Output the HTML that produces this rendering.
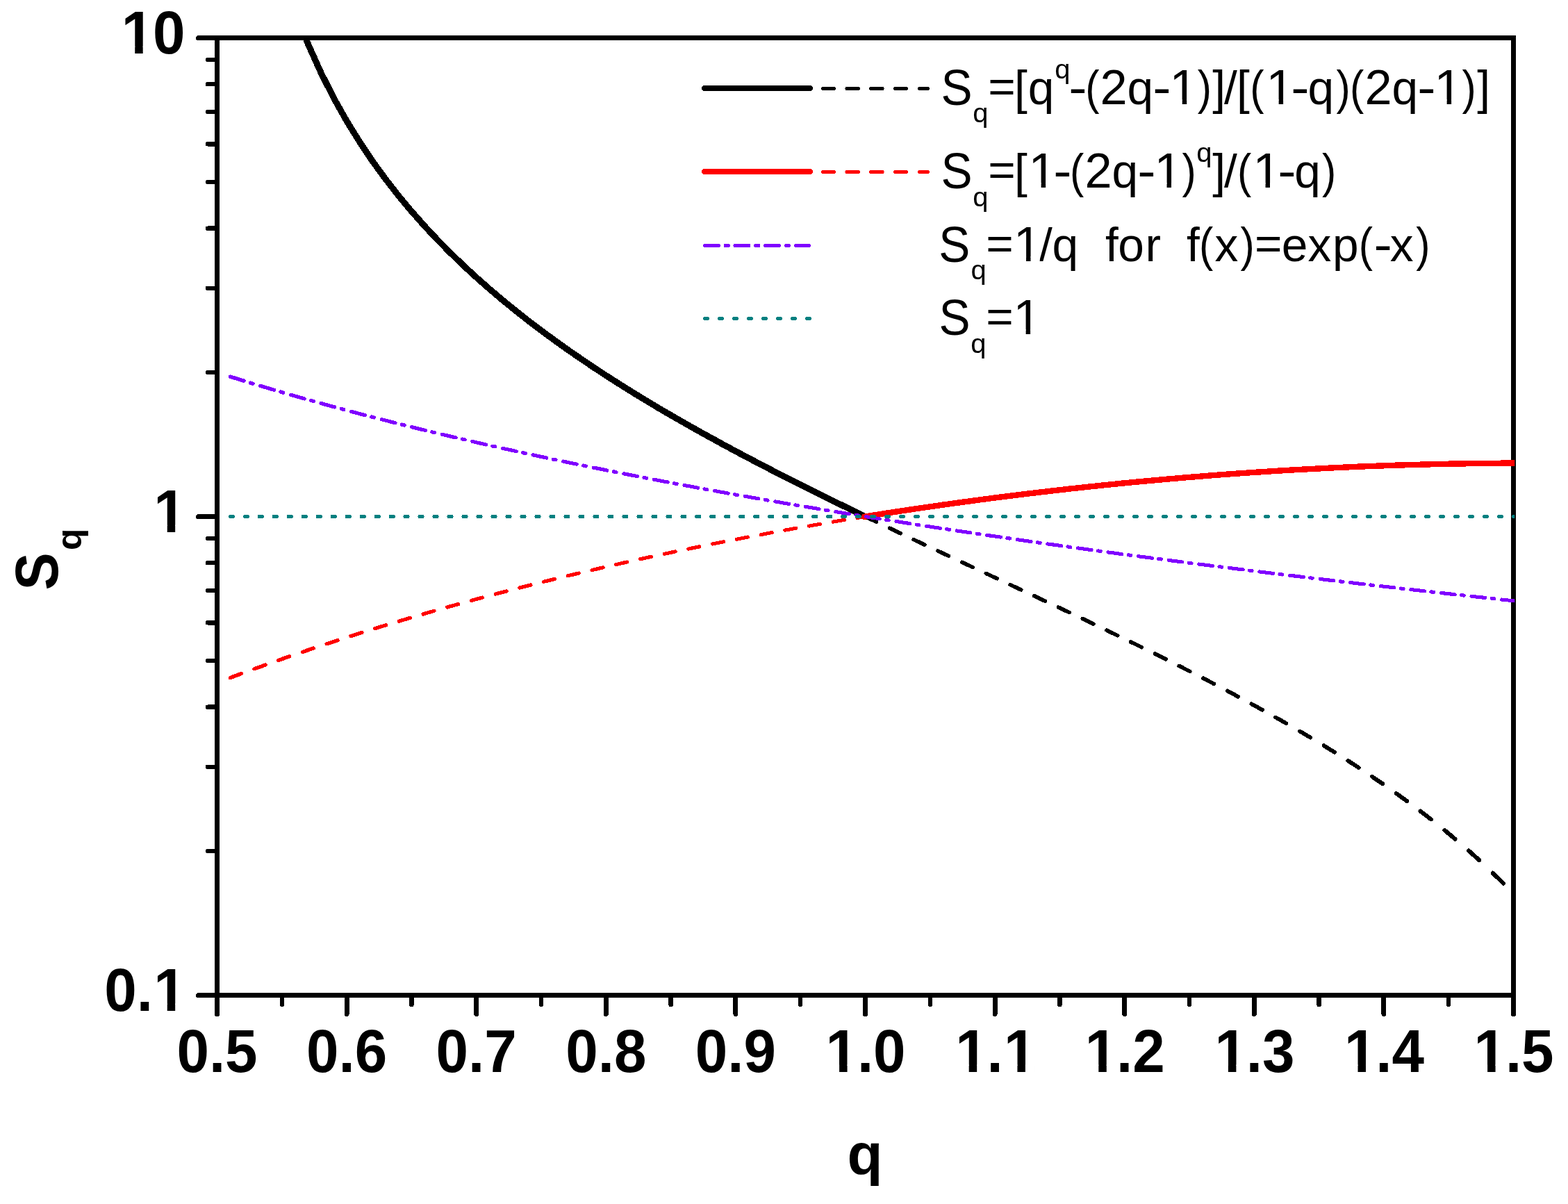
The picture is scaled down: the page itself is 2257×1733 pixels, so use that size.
<!DOCTYPE html>
<html lang="en"><head><meta charset="utf-8"><title>Sq versus q</title>
<style>
html,body{margin:0;padding:0;background:#fff;}
body{width:2257px;height:1733px;overflow:hidden;}
svg{display:block;}
text{white-space:pre;}
</style></head><body>
<svg width="2257" height="1733" viewBox="0 0 2257 1733" role="img" aria-label="Sq versus q">
<defs><clipPath id="plot"><rect x="309.0" y="51.0" width="1871.2" height="1385.0"/></clipPath></defs>
<rect width="2257" height="1733" fill="#fff"/>
<g id="axes" stroke="#000" fill="none" shape-rendering="crispEdges">
<path d="M285.5,54.5 H2182.0 M285.5,1432.5 H2182.0 M312.5,54.5 V1459.5 M2178.5,51.0 V1459.5" stroke-width="7"/>
</g>
<g id="ticks" stroke="#000" fill="none" stroke-linecap="round" shape-rendering="crispEdges">
<path d="M312.5,54.5 H285.5M312.5,743.5 H285.5M312.5,1432.5 H285.5M312.50,1432.5 V1459.5M499.10,1432.5 V1459.5M685.70,1432.5 V1459.5M872.30,1432.5 V1459.5M1058.90,1432.5 V1459.5M1245.50,1432.5 V1459.5M1432.10,1432.5 V1459.5M1618.70,1432.5 V1459.5M1805.30,1432.5 V1459.5M1991.90,1432.5 V1459.5M2178.50,1432.5 V1459.5" stroke-width="7"/>
<path d="M312.5,1225.09 H299.0M312.5,1103.76 H299.0M312.5,1017.68 H299.0M312.5,950.91 H299.0M312.5,896.35 H299.0M312.5,850.23 H299.0M312.5,810.27 H299.0M312.5,775.03 H299.0M312.5,536.09 H299.0M312.5,414.76 H299.0M312.5,328.68 H299.0M312.5,261.91 H299.0M312.5,207.35 H299.0M312.5,161.23 H299.0M312.5,121.27 H299.0M312.5,86.03 H299.0M405.80,1432.5 V1446.0M592.40,1432.5 V1446.0M779.00,1432.5 V1446.0M965.60,1432.5 V1446.0M1152.20,1432.5 V1446.0M1338.80,1432.5 V1446.0M1525.40,1432.5 V1446.0M1712.00,1432.5 V1446.0M1898.60,1432.5 V1446.0M2085.20,1432.5 V1446.0" stroke-width="6.4"/>
</g>
<g id="curves" clip-path="url(#plot)" fill="none" stroke-linecap="round" stroke-linejoin="round" shape-rendering="crispEdges">
<path d="M405.8,-41.3L424.5,14.9L443.1,62.6L461.8,104.2L480.4,141.1L499.1,174.3L517.8,204.5L536.4,232.3L555.1,257.9L573.7,281.8L592.4,304.2L611.1,325.3L629.7,345.2L648.4,364.1L667.0,382.1L685.7,399.3L704.4,415.8L723.0,431.6L741.7,446.8L760.3,461.5L779.0,475.7L797.7,489.4L816.3,502.7L835.0,515.6L853.6,528.2L872.3,540.5L891.0,552.4L909.6,564.1L928.3,575.5L946.9,586.7L965.6,597.6L984.3,608.3L1002.9,618.9L1021.6,629.2L1040.2,639.4L1058.9,649.5L1077.6,659.4L1096.2,669.1L1114.9,678.8L1133.5,688.3L1152.2,697.7L1170.9,707.0L1189.5,716.3L1208.2,725.4L1226.8,734.5L1245.5,743.5" stroke="#000" stroke-width="9.0" stroke-linecap="butt"/>
<path d="M1350.0,793.0L1357.5,796.5L1365.6,800.3M1384.7,809.2L1394.8,814.0L1400.3,816.5M1419.4,825.4L1432.1,831.4L1435.0,832.7M1454.1,841.6L1469.4,848.8L1469.7,848.9" stroke="#000" stroke-width="5.6"/><path d="M1245.8,743.7L1261.4,751.1M1280.6,760.3L1282.8,761.3L1296.1,767.6M1315.3,776.7L1320.1,779.0L1330.8,784.0M1488.9,857.9L1504.4,865.2M1523.6,874.2L1525.4,875.0L1539.1,881.5M1558.3,890.6L1562.7,892.7L1573.8,898.0M1593.1,907.2L1600.0,910.6L1608.6,914.7M1627.8,924.0L1637.4,928.7L1643.3,931.6M1662.5,941.1L1674.7,947.2L1678.0,948.8M1697.2,958.5L1712.0,966.0L1712.7,966.4M1731.9,976.2L1747.4,984.3" stroke="#000" stroke-width="5.7"/><path d="M1766.7,994.5L1768.0,995.1L1782.1,1002.7M1801.4,1013.2L1805.3,1015.3L1816.8,1021.7M1836.1,1032.5L1842.6,1036.1L1851.5,1041.3M1870.9,1052.5L1879.9,1057.8L1886.3,1061.6" stroke="#000" stroke-width="5.8"/><path d="M1905.6,1073.3L1917.3,1080.5L1920.9,1082.8M1940.4,1095.0L1954.6,1104.2L1955.7,1104.9" stroke="#000" stroke-width="5.9"/><path d="M1975.1,1117.9L1990.3,1128.3M2009.8,1142.0L2010.6,1142.5L2025.0,1153.0M2044.6,1167.6L2047.9,1170.1L2059.8,1179.3" stroke="#000" stroke-width="6.0"/><path d="M2079.3,1195.0L2085.2,1199.8L2094.4,1207.6M2114.1,1224.5L2122.5,1232.0L2129.2,1238.1M2148.8,1256.6L2159.8,1267.4L2163.9,1271.5" stroke="#000" stroke-width="6.1"/>
<path d="M1095.1,769.6L1096.2,769.4L1111.2,766.6M1129.8,763.2L1133.5,762.5L1145.9,760.3M1164.5,757.1L1170.9,756.0L1180.6,754.3M1199.2,751.1L1208.2,749.6L1215.3,748.4M1233.9,745.4L1245.5,743.5L1248.0,743.1" stroke="#ff0000" stroke-width="5.1"/><path d="M782.6,837.3L797.7,833.6L798.6,833.4M817.3,828.8L833.3,825.0M852.1,820.6L853.6,820.2L868.1,816.9M886.8,812.6L891.0,811.6L902.8,809.0M921.5,804.8L928.3,803.3L937.5,801.3M956.2,797.3L965.6,795.3L972.2,793.9M990.9,790.1L1002.9,787.6L1006.9,786.8M1025.7,783.0L1040.2,780.1L1041.7,779.8M1060.4,776.2L1076.4,773.1" stroke="#ff0000" stroke-width="5.2"/><path d="M539.6,904.7L555.1,899.9L555.5,899.8M574.4,894.1L590.3,889.4M609.1,883.9L611.1,883.3L625.0,879.3M643.8,874.0L648.4,872.7L659.7,869.6M678.5,864.4L685.7,862.4L694.4,860.1M713.2,855.1L723.0,852.5L729.1,850.9M748.0,846.1L760.3,842.9L763.9,842.0" stroke="#ff0000" stroke-width="5.3"/><path d="M366.1,962.8L368.5,961.9L381.9,957.1M400.8,950.4L405.8,948.6L416.6,944.9M435.5,938.4L443.1,935.8L451.3,933.0M470.2,926.8L480.4,923.4L486.0,921.6M505.0,915.5L517.8,911.5L520.8,910.5" stroke="#ff0000" stroke-width="5.4"/><path d="M331.4,975.6L347.1,969.7" stroke="#ff0000" stroke-width="5.5"/>
<path d="M1241.5,744.1L1245.5,743.5L1264.2,740.5L1282.8,737.6L1301.5,734.8L1320.1,732.0L1338.8,729.3L1357.5,726.6L1376.1,724.0L1394.8,721.5L1413.4,719.0L1432.1,716.5L1450.8,714.2L1469.4,711.8L1488.1,709.6L1506.7,707.4L1525.4,705.2L1544.1,703.1L1562.7,701.1L1581.4,699.1L1600.0,697.2L1618.7,695.3L1637.4,693.5L1656.0,691.8L1674.7,690.1L1693.3,688.5L1712.0,686.9L1730.7,685.4L1749.3,683.9L1768.0,682.5L1786.6,681.2L1805.3,679.9L1824.0,678.7L1842.6,677.5L1861.3,676.4L1879.9,675.4L1898.6,674.4L1917.3,673.4L1935.9,672.6L1954.6,671.7L1973.2,671.0L1991.9,670.3L2010.6,669.6L2029.2,669.1L2047.9,668.6L2066.5,668.1L2085.2,667.7L2103.9,667.4L2122.5,667.1L2141.2,666.9L2159.8,666.7L2178.5,666.6L2180.5,666.6" stroke="#ff0000" stroke-width="8.4" stroke-linecap="butt"/>
<path d="M2161.5,863.0L2178.5,864.8L2181.0,865.1" stroke="#8000ff" stroke-width="5.0"/><path d="M941.3,690.3L946.9,691.3L961.1,694.0M970.4,695.8L974.2,696.5M984.9,698.5L1002.9,701.8L1004.7,702.2M1014.0,703.9L1017.8,704.6M1028.5,706.5L1040.2,708.6L1048.3,710.1M1057.6,711.7L1058.9,712.0L1061.4,712.4M1072.1,714.3L1077.6,715.3L1091.9,717.8M1101.2,719.4L1105.0,720.1M1115.7,721.9L1133.5,725.0L1135.5,725.3M1144.8,726.9L1148.6,727.5M1159.2,729.3L1170.9,731.3L1179.0,732.6M1188.3,734.2L1189.5,734.4L1192.1,734.8M1202.8,736.6L1208.2,737.5L1222.6,739.8M1231.9,741.3L1235.7,741.9M1246.4,743.6L1264.2,746.5L1266.2,746.8M1275.5,748.3L1279.3,748.9M1290.0,750.5L1301.5,752.3L1309.8,753.6M1319.1,755.1L1320.1,755.2L1322.9,755.7M1333.5,757.3L1338.8,758.1L1353.4,760.3M1362.6,761.7L1366.5,762.3M1377.1,763.9L1394.8,766.5L1396.9,766.8M1406.2,768.2L1410.0,768.8M1420.7,770.4L1432.1,772.0L1440.5,773.2M1449.8,774.6L1450.8,774.7L1453.6,775.1M1464.3,776.7L1469.4,777.4L1484.1,779.5M1493.4,780.8L1497.2,781.4M1507.9,782.9L1525.4,785.3L1527.7,785.6M1537.0,786.9L1540.8,787.5M1551.4,788.9L1562.7,790.5L1571.2,791.6M1580.5,792.9L1581.4,793.0L1584.3,793.4M1595.0,794.9L1600.0,795.6L1614.8,797.5M1624.1,798.8L1627.9,799.3M1638.6,800.7L1656.0,803.0L1658.4,803.3M1667.7,804.5L1671.5,805.0M1682.2,806.4L1693.3,807.9L1702.0,809.0M1711.3,810.2L1712.0,810.3L1715.1,810.7M1725.8,812.0L1730.7,812.7L1745.6,814.5M1754.9,815.7L1758.7,816.2M1769.3,817.5L1786.6,819.7L1789.1,820.0M1798.4,821.2L1802.2,821.6M1812.9,822.9L1824.0,824.3L1832.7,825.4M1842.0,826.5L1842.6,826.6L1845.8,827.0M1856.5,828.3L1861.3,828.8L1876.3,830.6M1885.6,831.8L1889.4,832.2M1900.1,833.5L1917.3,835.5L1919.9,835.8M1929.2,836.9L1933.0,837.4M1943.7,838.6L1954.6,839.9L1963.5,840.9M1972.8,842.0L1973.2,842.0L1976.6,842.4M1987.2,843.6L1991.9,844.2L2007.0,845.9M2016.3,847.0L2020.1,847.4M2030.8,848.6L2047.9,850.5L2050.6,850.8M2059.9,851.9L2063.7,852.3M2074.4,853.5L2085.2,854.7L2094.2,855.7M2103.5,856.7L2103.9,856.7L2107.3,857.1M2118.0,858.3L2122.5,858.8L2137.8,860.4M2147.1,861.4L2150.9,861.9" stroke="#8000ff" stroke-width="5.1"/><path d="M549.2,603.7L555.1,605.2L568.9,608.7M578.3,611.1L582.0,612.0M592.7,614.7L611.1,619.2L612.4,619.5M621.8,621.8L625.5,622.7M636.3,625.2L648.4,628.1L656.0,629.9M665.4,632.1L667.0,632.5L669.1,632.9M679.9,635.4L685.7,636.8L699.6,639.9M709.0,642.1L712.7,642.9M723.5,645.3L741.7,649.3L743.2,649.7M752.6,651.7L756.3,652.5M767.1,654.8L779.0,657.4L786.8,659.1M796.2,661.1L797.7,661.4L799.9,661.8M810.6,664.1L816.3,665.3L830.3,668.2M839.7,670.1L843.4,670.9M854.2,673.1L872.3,676.7L873.9,677.1M883.3,678.9L887.0,679.7M897.8,681.8L909.6,684.1L917.5,685.6M926.9,687.5L928.3,687.7L930.6,688.2" stroke="#8000ff" stroke-width="5.2"/><path d="M360.4,551.1L364.0,552.2M374.9,555.4L387.1,559.1L394.5,561.3M404.0,564.1L405.8,564.6L407.6,565.1M418.5,568.3L424.5,570.0L438.1,573.9M447.6,576.5L451.2,577.5M462.1,580.6L480.4,585.6L481.7,585.9M491.2,588.5L494.8,589.5M505.6,592.4L517.8,595.6L525.2,597.5M534.7,600.0L536.4,600.5L538.3,600.9" stroke="#8000ff" stroke-width="5.3"/><path d="M331.4,542.1L349.8,547.8L350.9,548.1" stroke="#8000ff" stroke-width="5.4"/>
<path d="M331.2,743.5L335.3,743.5M352.2,743.5L356.3,743.5M373.1,743.5L377.2,743.5M394.1,743.5L398.2,743.5M415.1,743.5L419.2,743.5M436.1,743.5L440.2,743.5M457.1,743.5L461.2,743.5M478.1,743.5L480.4,743.5L482.2,743.5M499.1,743.5L503.2,743.5M520.1,743.5L524.2,743.5M541.1,743.5L545.2,743.5M562.1,743.5L566.2,743.5M583.0,743.5L587.1,743.5M604.0,743.5L608.1,743.5M625.0,743.5L629.1,743.5M646.0,743.5L648.4,743.5L650.1,743.5M667.0,743.5L671.1,743.5M688.0,743.5L692.1,743.5M709.0,743.5L713.1,743.5M730.0,743.5L734.1,743.5M751.0,743.5L755.1,743.5M772.0,743.5L776.1,743.5M792.9,743.5L797.0,743.5M813.9,743.5L816.3,743.5L818.0,743.5M834.9,743.5L835.0,743.5L839.0,743.5M855.9,743.5L860.0,743.5M876.9,743.5L881.0,743.5M897.9,743.5L902.0,743.5M918.9,743.5L923.0,743.5M939.9,743.5L944.0,743.5M960.9,743.5L965.0,743.5M981.9,743.5L984.3,743.5L986.0,743.5M1002.8,743.5L1002.9,743.5L1006.9,743.5M1023.8,743.5L1027.9,743.5M1044.8,743.5L1048.9,743.5M1065.8,743.5L1069.9,743.5M1086.8,743.5L1090.9,743.5M1107.8,743.5L1111.9,743.5M1128.8,743.5L1132.9,743.5M1149.8,743.5L1152.2,743.5L1153.9,743.5M1170.8,743.5L1170.9,743.5L1174.9,743.5M1191.8,743.5L1195.9,743.5M1212.7,743.5L1216.8,743.5M1233.7,743.5L1237.8,743.5M1254.7,743.5L1258.8,743.5M1275.7,743.5L1279.8,743.5M1296.7,743.5L1300.8,743.5M1317.7,743.5L1320.1,743.5L1321.8,743.5M1338.7,743.5L1338.8,743.5L1342.8,743.5M1359.7,743.5L1363.8,743.5M1380.7,743.5L1384.8,743.5M1401.7,743.5L1405.8,743.5M1422.6,743.5L1426.7,743.5M1443.6,743.5L1447.7,743.5M1464.6,743.5L1468.7,743.5M1485.6,743.5L1488.1,743.5L1489.7,743.5M1506.6,743.5L1506.7,743.5L1510.7,743.5M1527.6,743.5L1531.7,743.5M1548.6,743.5L1552.7,743.5M1569.6,743.5L1573.7,743.5M1590.6,743.5L1594.7,743.5M1611.6,743.5L1615.7,743.5M1632.5,743.5L1636.6,743.5M1653.5,743.5L1656.0,743.5L1657.6,743.5M1674.5,743.5L1674.7,743.5L1678.6,743.5M1695.5,743.5L1699.6,743.5M1716.5,743.5L1720.6,743.5M1737.5,743.5L1741.6,743.5M1758.5,743.5L1762.6,743.5M1779.5,743.5L1783.6,743.5M1800.5,743.5L1804.6,743.5M1821.5,743.5L1824.0,743.5L1825.6,743.5M1842.4,743.5L1842.6,743.5L1846.5,743.5M1863.4,743.5L1867.5,743.5M1884.4,743.5L1888.5,743.5M1905.4,743.5L1909.5,743.5M1926.4,743.5L1930.5,743.5M1947.4,743.5L1951.5,743.5M1968.4,743.5L1972.5,743.5M1989.4,743.5L1991.9,743.5L1993.5,743.5M2010.4,743.5L2010.6,743.5L2014.5,743.5M2031.4,743.5L2035.5,743.5M2052.3,743.5L2056.4,743.5M2073.3,743.5L2077.4,743.5M2094.3,743.5L2098.4,743.5M2115.3,743.5L2119.4,743.5M2136.3,743.5L2140.4,743.5M2157.3,743.5L2159.8,743.5L2161.4,743.5M2178.3,743.5L2178.5,743.5L2181.0,743.5" stroke="#008080" stroke-width="5.0"/>
</g>
<g id="labels" font-family="'Liberation Sans', sans-serif" fill="#000" style="font-kerning:none">
<text transform="translate(0,1543.00) scale(1,1.0350)" x="254.39 300.89 324.11" font-size="83.6" font-weight="bold">0.5</text>
<text transform="translate(0,1543.00) scale(1,1.0350)" x="440.99 487.49 510.71" font-size="83.6" font-weight="bold">0.6</text>
<text transform="translate(0,1543.00) scale(1,1.0350)" x="627.59 674.09 697.31" font-size="83.6" font-weight="bold">0.7</text>
<text transform="translate(0,1543.00) scale(1,1.0350)" x="814.19 860.69 883.91" font-size="83.6" font-weight="bold">0.8</text>
<text transform="translate(0,1543.00) scale(1,1.0350)" x="1000.79 1047.29 1070.51" font-size="83.6" font-weight="bold">0.9</text>
<text transform="translate(0,1543.00) scale(1,1.0350)" x="1188.59 1233.89 1257.11" font-size="83.6" font-weight="bold">1.0</text><rect x="1192.85" y="1532.57" width="15.25" height="11.93" fill="#fff"/><rect x="1219.57" y="1532.57" width="14.08" height="11.93" fill="#fff"/>
<text transform="translate(0,1543.00) scale(1,1.0350)" x="1375.19 1420.49 1444.91" font-size="83.6" font-weight="bold">1.1</text><rect x="1379.45" y="1532.57" width="15.25" height="11.93" fill="#fff"/><rect x="1406.17" y="1532.57" width="14.08" height="11.93" fill="#fff"/><rect x="1449.18" y="1532.57" width="15.25" height="11.93" fill="#fff"/><rect x="1475.89" y="1532.57" width="14.08" height="11.93" fill="#fff"/>
<text transform="translate(0,1543.00) scale(1,1.0350)" x="1561.79 1607.09 1630.31" font-size="83.6" font-weight="bold">1.2</text><rect x="1566.05" y="1532.57" width="15.25" height="11.93" fill="#fff"/><rect x="1592.77" y="1532.57" width="14.08" height="11.93" fill="#fff"/>
<text transform="translate(0,1543.00) scale(1,1.0350)" x="1748.39 1793.69 1816.91" font-size="83.6" font-weight="bold">1.3</text><rect x="1752.65" y="1532.57" width="15.25" height="11.93" fill="#fff"/><rect x="1779.37" y="1532.57" width="14.08" height="11.93" fill="#fff"/>
<text transform="translate(0,1543.00) scale(1,1.0350)" x="1934.99 1980.29 2003.51" font-size="83.6" font-weight="bold">1.4</text><rect x="1939.25" y="1532.57" width="15.25" height="11.93" fill="#fff"/><rect x="1965.97" y="1532.57" width="14.08" height="11.93" fill="#fff"/>
<text transform="translate(0,1543.00) scale(1,1.0350)" x="2121.59 2166.89 2190.11" font-size="83.6" font-weight="bold">1.5</text><rect x="2125.85" y="1532.57" width="15.25" height="11.93" fill="#fff"/><rect x="2152.57" y="1532.57" width="14.08" height="11.93" fill="#fff"/>
<text transform="translate(0,77.00) scale(1,1.0350)" x="174.71 220.01" font-size="83.6" font-weight="bold">10</text><rect x="178.97" y="66.57" width="15.25" height="11.93" fill="#fff"/><rect x="205.69" y="66.57" width="14.08" height="11.93" fill="#fff"/>
<text transform="translate(0,766.00) scale(1,1.0350)" x="221.20" font-size="83.6" font-weight="bold">1</text><rect x="225.47" y="755.57" width="15.25" height="11.93" fill="#fff"/><rect x="252.18" y="755.57" width="14.08" height="11.93" fill="#fff"/>
<text transform="translate(0,1455.00) scale(1,1.0350)" x="150.28 196.78 221.20" font-size="83.6" font-weight="bold">0.1</text><rect x="225.47" y="1444.57" width="15.25" height="11.93" fill="#fff"/><rect x="252.18" y="1444.57" width="14.08" height="11.93" fill="#fff"/>
<text transform="translate(0,1690) scale(1,0.99)" x="1219.47" font-size="83.6" font-weight="bold">q</text>
<g transform="translate(83.3,0) rotate(-90)"><text font-weight="bold"><tspan x="-849.6" y="0" font-size="87.4" textLength="54.09" lengthAdjust="spacingAndGlyphs">S</tspan><tspan x="-791.9" y="33.4" font-size="49.6" textLength="31.46" lengthAdjust="spacingAndGlyphs">q</tspan></text></g>
<text font-size="67.6"><tspan x="1354.57" y="151.00" font-size="71.66" textLength="45.09" lengthAdjust="spacingAndGlyphs">S</tspan><tspan x="1400.27" y="175.50" font-size="38.80" textLength="22.25" lengthAdjust="spacingAndGlyphs">q</tspan><tspan x="1422.28" y="146.50" font-size="64.22" textLength="39.48" lengthAdjust="spacingAndGlyphs">=</tspan><tspan x="1459.91" y="150.00">[</tspan><tspan x="1479.64" y="150.00">q</tspan><tspan x="1518.34" y="112.70" font-size="38.80" textLength="22.25" lengthAdjust="spacingAndGlyphs">q</tspan><tspan x="1538.23" y="150.00" font-size="69.63" textLength="26.34" lengthAdjust="spacingAndGlyphs">-</tspan><tspan x="1562.26" y="150.00" textLength="20.26" lengthAdjust="spacingAndGlyphs">(</tspan><tspan x="1583.55" y="150.00" font-size="69.63" textLength="39.10" lengthAdjust="spacingAndGlyphs">2</tspan><tspan x="1622.54" y="150.00">q</tspan><tspan x="1659.33" y="150.00" font-size="69.63" textLength="26.34" lengthAdjust="spacingAndGlyphs">-</tspan><tspan x="1683.39" y="150.00" font-size="69.63" textLength="40.60" lengthAdjust="spacingAndGlyphs">1</tspan><tspan x="1723.68" y="150.00" textLength="20.26" lengthAdjust="spacingAndGlyphs">)</tspan><tspan x="1745.25" y="150.00">]</tspan><tspan x="1762.11" y="149.00" font-size="65.91" textLength="18.78" lengthAdjust="spacingAndGlyphs">/</tspan><tspan x="1780.06" y="150.00">[</tspan><tspan x="1799.26" y="150.00" textLength="20.26" lengthAdjust="spacingAndGlyphs">(</tspan><tspan x="1822.29" y="150.00" font-size="69.63" textLength="40.60" lengthAdjust="spacingAndGlyphs">1</tspan><tspan x="1858.28" y="150.00" font-size="69.63" textLength="26.34" lengthAdjust="spacingAndGlyphs">-</tspan><tspan x="1882.54" y="150.00">q</tspan><tspan x="1923.48" y="150.00" textLength="20.26" lengthAdjust="spacingAndGlyphs">)</tspan><tspan x="1943.06" y="150.00" textLength="20.26" lengthAdjust="spacingAndGlyphs">(</tspan><tspan x="1964.55" y="150.00" font-size="69.63" textLength="39.10" lengthAdjust="spacingAndGlyphs">2</tspan><tspan x="2003.39" y="150.00">q</tspan><tspan x="2040.18" y="150.00" font-size="69.63" textLength="26.34" lengthAdjust="spacingAndGlyphs">-</tspan><tspan x="2064.29" y="150.00" font-size="69.63" textLength="40.60" lengthAdjust="spacingAndGlyphs">1</tspan><tspan x="2104.53" y="150.00" textLength="20.26" lengthAdjust="spacingAndGlyphs">)</tspan><tspan x="2126.25" y="150.00">]</tspan></text><rect x="1687.95" y="143.20" width="13.80" height="8.30" fill="#fff"/><rect x="1708.20" y="143.20" width="13.13" height="8.30" fill="#fff"/><rect x="1826.85" y="143.20" width="13.80" height="8.30" fill="#fff"/><rect x="1847.10" y="143.20" width="13.13" height="8.30" fill="#fff"/><rect x="2068.85" y="143.20" width="13.80" height="8.30" fill="#fff"/><rect x="2089.10" y="143.20" width="13.13" height="8.30" fill="#fff"/>
<text font-size="67.6"><tspan x="1354.57" y="271.00" font-size="71.66" textLength="45.09" lengthAdjust="spacingAndGlyphs">S</tspan><tspan x="1400.27" y="297.00" font-size="38.80" textLength="22.25" lengthAdjust="spacingAndGlyphs">q</tspan><tspan x="1422.28" y="266.50" font-size="64.22" textLength="39.48" lengthAdjust="spacingAndGlyphs">=</tspan><tspan x="1459.91" y="270.00">[</tspan><tspan x="1480.29" y="270.00" font-size="69.63" textLength="40.60" lengthAdjust="spacingAndGlyphs">1</tspan><tspan x="1516.36" y="270.00" font-size="69.63" textLength="26.34" lengthAdjust="spacingAndGlyphs">-</tspan><tspan x="1540.06" y="270.00" textLength="20.26" lengthAdjust="spacingAndGlyphs">(</tspan><tspan x="1561.50" y="270.00" font-size="69.63" textLength="39.10" lengthAdjust="spacingAndGlyphs">2</tspan><tspan x="1600.44" y="270.00">q</tspan><tspan x="1637.33" y="270.00" font-size="69.63" textLength="26.34" lengthAdjust="spacingAndGlyphs">-</tspan><tspan x="1661.19" y="270.00" font-size="69.63" textLength="40.60" lengthAdjust="spacingAndGlyphs">1</tspan><tspan x="1701.58" y="270.00" textLength="20.26" lengthAdjust="spacingAndGlyphs">)</tspan><tspan x="1722.17" y="232.70" font-size="38.80" textLength="22.25" lengthAdjust="spacingAndGlyphs">q</tspan><tspan x="1745.15" y="270.00">]</tspan><tspan x="1762.11" y="269.00" font-size="65.91" textLength="18.78" lengthAdjust="spacingAndGlyphs">/</tspan><tspan x="1781.01" y="270.00" textLength="20.26" lengthAdjust="spacingAndGlyphs">(</tspan><tspan x="1803.19" y="270.00" font-size="69.63" textLength="40.60" lengthAdjust="spacingAndGlyphs">1</tspan><tspan x="1839.18" y="270.00" font-size="69.63" textLength="26.34" lengthAdjust="spacingAndGlyphs">-</tspan><tspan x="1863.19" y="270.00">q</tspan><tspan x="1902.88" y="270.00" textLength="20.26" lengthAdjust="spacingAndGlyphs">)</tspan></text><rect x="1484.85" y="263.20" width="13.80" height="8.30" fill="#fff"/><rect x="1505.10" y="263.20" width="13.13" height="8.30" fill="#fff"/><rect x="1665.75" y="263.20" width="13.80" height="8.30" fill="#fff"/><rect x="1686.00" y="263.20" width="13.13" height="8.30" fill="#fff"/><rect x="1807.75" y="263.20" width="13.80" height="8.30" fill="#fff"/><rect x="1828.00" y="263.20" width="13.13" height="8.30" fill="#fff"/>
<text font-size="67.6"><tspan x="1351.22" y="377.00" font-size="71.66" textLength="45.09" lengthAdjust="spacingAndGlyphs">S</tspan><tspan x="1397.42" y="401.50" font-size="38.80" textLength="22.25" lengthAdjust="spacingAndGlyphs">q</tspan><tspan x="1419.28" y="372.50" font-size="64.22" textLength="39.48" lengthAdjust="spacingAndGlyphs">=</tspan><tspan x="1458.69" y="376.00" font-size="69.63" textLength="40.60" lengthAdjust="spacingAndGlyphs">1</tspan><tspan x="1495.96" y="375.00" font-size="65.91" textLength="18.78" lengthAdjust="spacingAndGlyphs">/</tspan><tspan x="1514.44" y="376.00">q</tspan><tspan x="1552.00 1570.78" y="376.00">  </tspan><tspan x="1590.93 1609.30 1648.46" y="376.00">for</tspan><tspan x="1672.00 1690.78" y="376.00">  </tspan><tspan x="1708.08" y="376.00">f</tspan><tspan x="1726.01" y="376.00" textLength="20.26" lengthAdjust="spacingAndGlyphs">(</tspan><tspan x="1748.43" y="376.00">x</tspan><tspan x="1785.53" y="376.00" textLength="20.26" lengthAdjust="spacingAndGlyphs">)</tspan><tspan x="1806.13" y="372.50" font-size="64.22" textLength="39.48" lengthAdjust="spacingAndGlyphs">=</tspan><tspan x="1844.82 1882.53 1917.99" y="376.00">exp</tspan><tspan x="1955.86" y="376.00" textLength="20.26" lengthAdjust="spacingAndGlyphs">(</tspan><tspan x="1977.48" y="376.00" font-size="69.63" textLength="26.34" lengthAdjust="spacingAndGlyphs">-</tspan><tspan x="2000.63" y="376.00">x</tspan><tspan x="2038.33" y="376.00" textLength="20.26" lengthAdjust="spacingAndGlyphs">)</tspan></text><rect x="1463.25" y="369.20" width="13.80" height="8.30" fill="#fff"/><rect x="1483.50" y="369.20" width="13.13" height="8.30" fill="#fff"/>
<text font-size="67.6"><tspan x="1351.52" y="482.00" font-size="71.66" textLength="45.09" lengthAdjust="spacingAndGlyphs">S</tspan><tspan x="1397.27" y="508.00" font-size="38.80" textLength="22.25" lengthAdjust="spacingAndGlyphs">q</tspan><tspan x="1419.33" y="477.50" font-size="64.22" textLength="39.48" lengthAdjust="spacingAndGlyphs">=</tspan><tspan x="1458.29" y="481.00" font-size="69.63" textLength="40.60" lengthAdjust="spacingAndGlyphs">1</tspan></text><rect x="1462.85" y="474.20" width="13.80" height="8.30" fill="#fff"/><rect x="1483.10" y="474.20" width="13.13" height="8.30" fill="#fff"/>
</g>
<g id="legend-lines" fill="none" stroke-linecap="round" shape-rendering="crispEdges">
<path transform="translate(0,127)" d="M1013.90,0 H1166.10" stroke="#000" stroke-width="8"/>
<path transform="translate(0,127.5)" d="M1184.25,0 H1200.55M1219.00,0 H1235.30M1253.75,0 H1270.05M1288.50,0 H1304.80M1323.25,0 H1335.60" stroke="#000" stroke-width="5"/>
<path transform="translate(0,247)" d="M1013.90,0 H1166.10" stroke="#ff0000" stroke-width="8"/>
<path transform="translate(0,247.5)" d="M1184.25,0 H1200.55M1219.00,0 H1235.30M1253.75,0 H1270.05M1288.50,0 H1304.80M1323.25,0 H1335.60" stroke="#ff0000" stroke-width="5"/>
<path transform="translate(0,353.5)" d="M1014.40,0 H1034.40M1044.10,0 H1048.30M1058.00,0 H1078.00M1087.70,0 H1091.90M1101.60,0 H1121.60M1131.30,0 H1135.50M1145.20,0 H1164.70" stroke="#8000ff" stroke-width="5"/>
<path transform="translate(0,458.5)" d="M1014.40,0 H1018.50M1035.40,0 H1039.50M1056.40,0 H1060.50M1077.40,0 H1081.50M1098.40,0 H1102.50M1119.40,0 H1123.50M1140.40,0 H1144.50M1161.40,0 H1165.50" stroke="#008080" stroke-width="5"/>
</g>
</svg>
</body></html>
